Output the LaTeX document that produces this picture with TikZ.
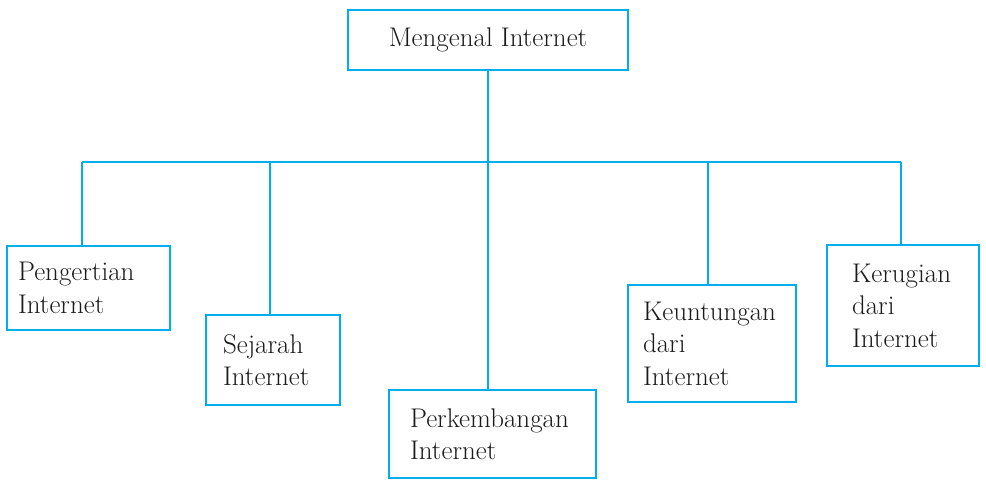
\documentclass[tikz,border=0pt]{standalone}
\usepackage{xcolor}
\usepackage{tikz}
\usetikzlibrary{positioning,calc}
\definecolor{garisbiru}{HTML}{00AEEF}
\definecolor{teks}{HTML}{1A1A1A}
\begin{document}
\begin{tikzpicture}[
  x=1pt, y=-1pt,
  kotak/.style={draw=garisbiru, line width=2.8pt, align=left, text=teks,
    font=\fontsize{27}{32.5}\selectfont, inner ysep=0pt},
  garis/.style={draw=garisbiru, line width=2.8pt}
]
\useasboundingbox (0,0) rectangle (986,480);
\node[kotak, minimum width=280pt, minimum height=60pt, align=center] (top) at (488,40) {Mengenal Internet};
\node[kotak, inner xsep=11pt, text width=141pt, minimum height=84pt] (pengertian) at (88.5,288) {Pengertian\\Internet};
\node[kotak, inner xsep=17pt, text width=100pt, minimum height=90pt] (sejarah) at (273,360) {Sejarah\\Internet};
\node[kotak, inner xsep=21pt, text width=165pt, minimum height=88pt] (perkembangan) at (492.5,434) {Perkembangan\\Internet};
\node[kotak, inner xsep=15pt, text width=138pt, minimum height=117pt] (keuntungan) at (712,343.5) {Keuntungan\\dari\\Internet};
\node[kotak, inner xsep=25pt, text width=102pt, minimum height=121pt] (kerugian) at (903,305.5) {Kerugian\\dari\\Internet};

% cabang
\coordinate (bus) at (488,162);
\coordinate (j1) at (82,162);
\coordinate (j2) at (270,162);
\coordinate (j4) at (708,162);
\coordinate (j5) at (901,162);
\draw[garis] (top) -- (bus);
\draw[garis] (j1) -- (j5);
\draw[garis] (j1) -- (j1 |- pengertian.north);
\draw[garis] (j2) -- (j2 |- sejarah.north);
\draw[garis] (bus) -- (bus |- perkembangan.north);
\draw[garis] (j4) -- (j4 |- keuntungan.north);
\draw[garis] (j5) -- (j5 |- kerugian.north);
\end{tikzpicture}
\end{document}
